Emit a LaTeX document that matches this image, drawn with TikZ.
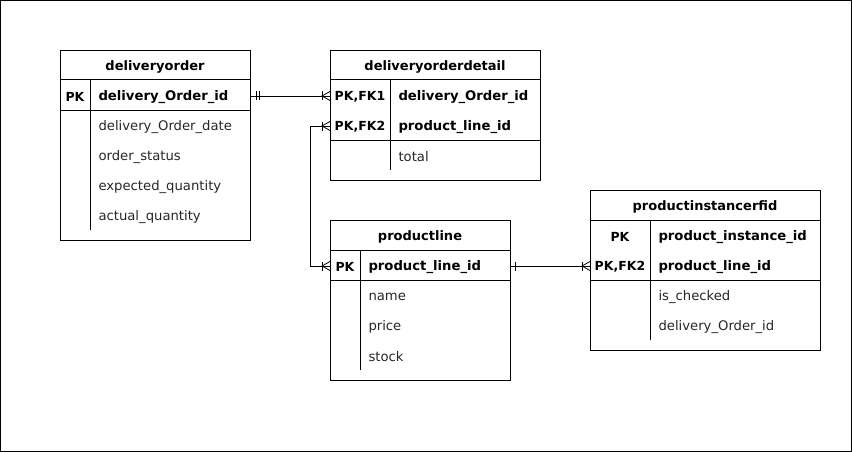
\documentclass[tikz,border=0pt]{standalone}
\usepackage{fontspec}
\setmainfont{DejaVu Sans}
\usetikzlibrary{calc}
\begin{document}
\begin{tikzpicture}[x=1pt,y=-1pt,line width=1pt,
  tbl/.style={draw,rectangle,anchor=north west,inner sep=0pt},
  hdr/.style={font=\fontsize{13}{15}\selectfont\bfseries,anchor=center,inner sep=0pt,yshift=-1pt},
  key/.style={font=\fontsize{12.5}{15}\selectfont\bfseries,anchor=center,inner sep=0pt,yshift=-1pt},
  fld/.style={font=\fontsize{13.2}{15}\selectfont,anchor=west,inner sep=0pt,text=black!85,yshift=-1pt},
  kfld/.style={font=\fontsize{13.2}{15}\selectfont\bfseries,anchor=west,inner sep=0pt,yshift=-1pt},
  conn/.style={line width=0.8pt}]
\useasboundingbox (0,0) rectangle (852,452);
\draw[line width=1pt] (0.5,0.5) rectangle (851.5,451.5);

% deliveryorder
\node[tbl,minimum width=190pt,minimum height=190pt] (do) at (60,50) {};
\node[hdr] (doh) at (155,66) {deliveryorder};
\draw ($(do.north west)+(0,30)$) -- ($(do.north east)+(0,30)$);
\draw ($(do.north west)+(0,60)$) -- ($(do.north east)+(0,60)$);
\draw (90,80) -- (90,230);
\node[key] (dok) at (75,96) {PK};
\node[kfld] (dopk) at (98,96) {delivery\_Order\_id};
\node[fld] (do1) at (98,126) {delivery\_Order\_date};
\node[fld] (do2) at (98,156) {order\_status};
\node[fld] (do3) at (98,186) {expected\_quantity};
\node[fld] (do4) at (98,216) {actual\_quantity};

% deliveryorderdetail
\node[tbl,minimum width=210pt,minimum height=130pt] (dod) at (330,50) {};
\node[hdr] (dodh) at (435,66) {deliveryorderdetail};
\draw ($(dod.north west)+(0,30)$) -- ($(dod.north east)+(0,30)$);
\draw ($(dod.north west)+(0,90)$) -- ($(dod.north east)+(0,90)$);
\draw (390,80) -- (390,170);
\node[key] (dodk1) at (360,96) {PK,FK1};
\node[key] (dodk2) at (360,126) {PK,FK2};
\node[kfld] (dodp1) at (398,96) {delivery\_Order\_id};
\node[kfld] (dodp2) at (398,126) {product\_line\_id};
\node[fld] (dod1) at (398,156) {total};

% productline
\node[tbl,minimum width=180pt,minimum height=160pt] (pl) at (330,220) {};
\node[hdr] (plh) at (420,236) {productline};
\draw ($(pl.north west)+(0,30)$) -- ($(pl.north east)+(0,30)$);
\draw ($(pl.north west)+(0,60)$) -- ($(pl.north east)+(0,60)$);
\draw (360,250) -- (360,370);
\node[key] (plk) at (345,266) {PK};
\node[kfld] (plpk) at (368,266) {product\_line\_id};
\node[fld] (pl1) at (368,296) {name};
\node[fld] (pl2) at (368,326) {price};
\node[fld] (pl3) at (368,356) {stock};

% productinstancerfid
\node[tbl,minimum width=230pt,minimum height=160pt] (pi) at (590,190) {};
\node[hdr] (pih) at (705,206) {productinstancerfid};
\draw ($(pi.north west)+(0,30)$) -- ($(pi.north east)+(0,30)$);
\draw ($(pi.north west)+(0,90)$) -- ($(pi.north east)+(0,90)$);
\draw (650,220) -- (650,340);
\node[key] (pik1) at (620,236) {PK};
\node[key] (pik2) at (620,266) {PK,FK2};
\node[kfld] (pip1) at (658,236) {product\_instance\_id};
\node[kfld] (pip2) at (658,266) {product\_line\_id};
\node[fld] (pi1) at (658,296) {is\_checked};
\node[fld] (pi2) at (658,326) {delivery\_Order\_id};

% connectors
\coordinate (a1) at (do.east |- 0,96);
\coordinate (a2) at (dod.west |- 0,96);
\draw[conn] (a1) -- (a2);
\draw[conn] ($(a1)+(5,-4.5)$) -- ($(a1)+(5,4.5)$);
\draw[conn] ($(a1)+(8.5,-4.5)$) -- ($(a1)+(8.5,4.5)$);
\draw[conn] ($(a2)+(-8,-4.5)$) -- ($(a2)+(-8,4.5)$);
\draw[conn] ($(a2)+(0,-4.5)$) -- ($(a2)+(-8,0)$) -- ($(a2)+(0,4.5)$);

\coordinate (b1) at (dod.west |- 0,126);
\coordinate (b2) at (pl.west |- 0,266);
\draw[conn] (b1) -- ($(b1)+(-20,0)$) |- (b2);
\draw[conn] ($(b1)+(-8,-4.5)$) -- ($(b1)+(-8,4.5)$);
\draw[conn] ($(b1)+(0,-4.5)$) -- ($(b1)+(-8,0)$) -- ($(b1)+(0,4.5)$);
\draw[conn] ($(b2)+(-8,-4.5)$) -- ($(b2)+(-8,4.5)$);
\draw[conn] ($(b2)+(0,-4.5)$) -- ($(b2)+(-8,0)$) -- ($(b2)+(0,4.5)$);

\coordinate (c1) at (pl.east |- 0,266);
\coordinate (c2) at (pi.west |- 0,266);
\draw[conn] (c1) -- (c2);
\draw[conn] ($(c1)+(4.5,-4.5)$) -- ($(c1)+(4.5,4.5)$);
\draw[conn] ($(c2)+(-8,-4.5)$) -- ($(c2)+(-8,4.5)$);
\draw[conn] ($(c2)+(0,-4.5)$) -- ($(c2)+(-8,0)$) -- ($(c2)+(0,4.5)$);
\end{tikzpicture}
\end{document}
